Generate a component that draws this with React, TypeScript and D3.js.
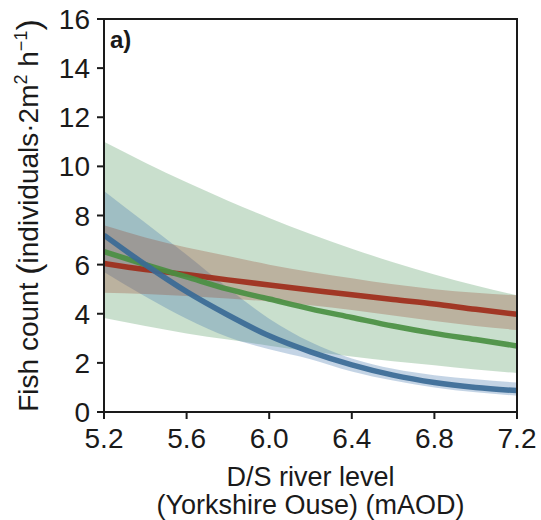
import React from "react";
import * as d3 from "d3";

const riverLevel = [5.2, 5.4, 5.6, 5.8, 6.0, 6.2, 6.4, 6.6, 6.8, 7.0, 7.2];

const redFit = [6.05, 5.8, 5.6, 5.38, 5.17, 4.97, 4.77, 4.58, 4.4, 4.18, 3.98];
const redUpper = [7.6, 7.1, 6.7, 6.35, 6.0, 5.7, 5.45, 5.2, 5.0, 4.85, 4.75];
const redLower = [4.85, 4.8, 4.72, 4.62, 4.5, 4.35, 4.15, 3.93, 3.7, 3.5, 3.34];

const greenFit = [6.53, 6.0, 5.5, 5.0, 4.6, 4.2, 3.85, 3.5, 3.2, 2.95, 2.69];
const greenUpper = [11.0, 10.15, 9.35, 8.6, 7.9, 7.25, 6.65, 6.1, 5.6, 5.15, 4.75];
const greenLower = [3.83, 3.5, 3.2, 2.95, 2.7, 2.47, 2.26, 2.07, 1.9, 1.73, 1.59];

const blueFit = [7.2, 6.0, 4.9, 3.95, 3.1, 2.45, 1.92, 1.5, 1.2, 1.0, 0.87];
const blueUpper = [9.0, 7.7, 6.4, 5.05, 3.8, 2.85, 2.18, 1.76, 1.5, 1.33, 1.2];
const blueLower = [5.7, 4.7, 3.8, 3.05, 2.55, 2.15, 1.65, 1.28, 1.0, 0.8, 0.66];

const xTicks = [5.2, 5.6, 6.0, 6.4, 6.8, 7.2];
const yTicks = [0, 2, 4, 6, 8, 10, 12, 14, 16];

const W = 541;
const H = 520;
const left = 104;
const right = 517;
const top = 19;
const bottom = 412;
const FONT = "'Liberation Sans', Arial, Helvetica, sans-serif";

export default function App() {
  const x = d3.scaleLinear().domain([5.2, 7.2]).range([left, right]);
  const y = d3.scaleLinear().domain([0, 16]).range([bottom, top]);

  const series = [
    { fit: greenFit, up: greenUpper, lo: greenLower, band: "rgba(75,150,90,0.3)", line: "#4a8f42" },
    { fit: blueFit, up: blueUpper, lo: blueLower, band: "rgba(70,120,175,0.32)", line: "#3a6a96" },
    { fit: redFit, up: redUpper, lo: redLower, band: "rgba(150,60,40,0.28)", line: "#9e2c1a" },
  ];

  const area = (up: number[], lo: number[]) =>
    d3
      .area<number>()
      .x((_, i) => x(riverLevel[i]))
      .y0((_, i) => y(lo[i]))
      .y1((_, i) => y(up[i]))
      .curve(d3.curveMonotoneX)(riverLevel) as string;

  const line = (vals: number[]) =>
    d3
      .line<number>()
      .x((_, i) => x(riverLevel[i]))
      .y((_, i) => y(vals[i]))
      .curve(d3.curveMonotoneX)(riverLevel) as string;

  const lineOrder = [series[2], series[0], series[1]];

  return (
    <svg
      width={W}
      height={H}
      style={{ position: "absolute", left: 0, top: 0, background: "#fff" }}
      fontFamily={FONT}
    >
      <rect x={0} y={0} width={W} height={H} fill="#fff" />
      <clipPath id="plotclip">
        <rect x={left} y={top} width={right - left} height={bottom - top} />
      </clipPath>
      <g clipPath="url(#plotclip)">
        {series.map((s, i) => (
          <path key={"b" + i} d={area(s.up, s.lo)} fill={s.band} stroke="none" />
        ))}
        {lineOrder.map((s, i) => (
          <path
            key={"l" + i}
            d={line(s.fit)}
            fill="none"
            stroke={s.line}
            strokeWidth={5.5}
            strokeOpacity={0.92}
          />
        ))}
      </g>
      <rect
        x={left}
        y={top}
        width={right - left}
        height={bottom - top}
        fill="none"
        stroke="#1a1a1a"
        strokeWidth={2}
      />
      {xTicks.map((t) => (
        <g key={"x" + t}>
          <line x1={x(t)} x2={x(t)} y1={bottom} y2={bottom + 7} stroke="#1a1a1a" strokeWidth={2} />
          <text x={x(t)} y={448} textAnchor="middle" fontSize={28} fill="#1a1a1a">
            {t.toFixed(1)}
          </text>
        </g>
      ))}
      {yTicks.map((t) => (
        <g key={"y" + t}>
          <line x1={left - 7} x2={left} y1={y(t)} y2={y(t)} stroke="#1a1a1a" strokeWidth={2} />
          <text x={90} y={y(t)} dy="0.36em" textAnchor="end" fontSize={28} fill="#1a1a1a">
            {t}
          </text>
        </g>
      ))}
      <text x={110} y={48} fontSize={24} fontWeight="bold" fill="#1a1a1a">
        a)
      </text>
      <text x={(left + right) / 2} y={486} textAnchor="middle" fontSize={27} fill="#1a1a1a">
        D/S river level
      </text>
      <text x={(left + right) / 2} y={514} textAnchor="middle" fontSize={27} fill="#1a1a1a">
        (Yorkshire Ouse) (mAOD)
      </text>
      <text
        transform={`translate(38, ${(top + bottom) / 2}) rotate(-90)`}
        textAnchor="middle"
        fontSize={28}
        fill="#1a1a1a"
      >
        <tspan>Fish count </tspan>
        <tspan fontSize={34} dy={2}>(</tspan>
        <tspan dy={-2}>individuals·2m</tspan>
        <tspan fontSize={18} dy={-11}>2</tspan>
        <tspan dy={11}> h</tspan>
        <tspan fontSize={18} dy={-11}>−1</tspan>
        <tspan fontSize={34} dy={13}>)</tspan>
      </text>
    </svg>
  );
}
